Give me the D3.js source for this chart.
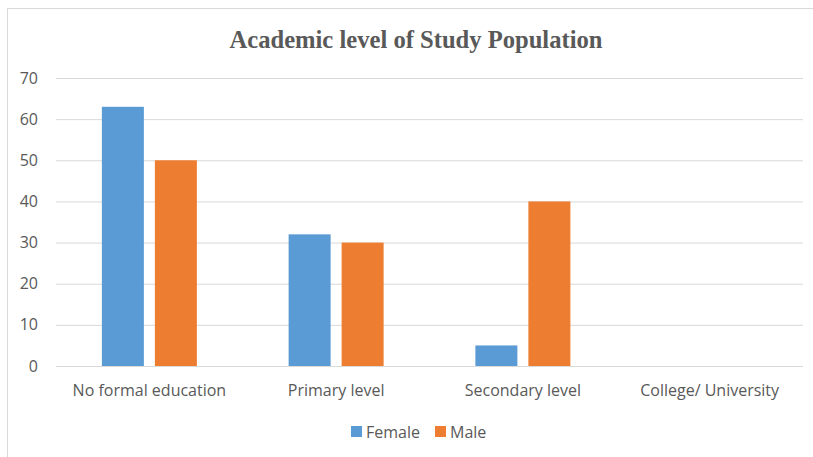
<!DOCTYPE html>
<html><head><meta charset="utf-8">
<script src="https://cdn.jsdelivr.net/npm/d3@7"></script>
<style>body{margin:0;background:#fff;} svg{display:block;}</style>
</head><body>
<script>
const categories = ["No formal education", "Primary level", "Secondary level", "College/ University"];
const seriesNames = ["Female", "Male"];
const femaleValues = [63, 32, 5, 0];
const maleValues = [50, 30, 40, 0];
const yTicks = [0, 10, 20, 30, 40, 50, 60, 70];
const colors = ["#5b9bd5", "#ed7d31"];

(function () {
const W = 813, H = 457;
const svg = d3.select("body").append("svg").attr("width", W).attr("height", H);
svg.append("rect").attr("x", 7.5).attr("y", 8.5).attr("width", W + 10).attr("height", H + 10)
  .attr("fill", "#fff").attr("stroke", "#d9d9d9").attr("stroke-width", 1);

const mLeft = 56, mRight = 803, mTop = 78, mBottom = 366;
const x = d3.scaleBand().domain(categories).range([mLeft, mRight]);
const y = d3.scaleLinear().domain([0, 70]).range([mBottom, mTop]);

svg.append("text").attr("x", 416).attr("y", 48).attr("text-anchor", "middle")
  .attr("font-family", "Liberation Serif, Times New Roman, serif").attr("font-weight", "bold")
  .attr("font-size", 24.6).attr("fill", "#595959").text("Academic level of Study Population");

const yAxis = d3.axisLeft(y).tickValues(yTicks).tickSize(-(mRight - mLeft)).tickPadding(18);
const gy = svg.append("g").attr("transform", `translate(${mLeft},0)`).call(yAxis);
gy.select(".domain").remove();
gy.selectAll(".tick line").attr("stroke", "#d9d9d9").attr("stroke-width", 1);
gy.selectAll(".tick text").attr("font-family", "Open Sans, sans-serif").attr("font-size", 16).attr("fill", "#595959");

const xAxis = d3.axisBottom(x).tickSize(0).tickPadding(19);
const gx = svg.append("g").attr("transform", `translate(0,${mBottom})`).call(xAxis);
gx.select(".domain").remove();
gx.selectAll(".tick text").attr("font-family", "Open Sans, sans-serif").attr("font-size", 16).attr("fill", "#595959");

const series = [femaleValues, maleValues];
const barW = 42, gap = 11;
series.forEach((vals, si) => {
  svg.append("g").selectAll("rect").data(categories).join("rect")
    .attr("x", (d) => x(d) + x.bandwidth() / 2 - gap / 2 - barW + si * (barW + gap))
    .attr("y", (d, i) => y(vals[i]))
    .attr("width", barW)
    .attr("height", (d, i) => y(0) - y(vals[i]))
    .attr("fill", colors[si]);
});

const legend = svg.append("g");
const lx = [351, 435];
seriesNames.forEach((n, i) => {
  legend.append("rect").attr("x", lx[i]).attr("y", 426).attr("width", 11).attr("height", 11).attr("fill", colors[i]);
  legend.append("text").attr("x", lx[i] + 15).attr("y", 437.5).attr("font-family", "Open Sans, sans-serif")
    .attr("font-size", 16).attr("fill", "#595959").text(n);
});
})();
</script>
</body></html>
